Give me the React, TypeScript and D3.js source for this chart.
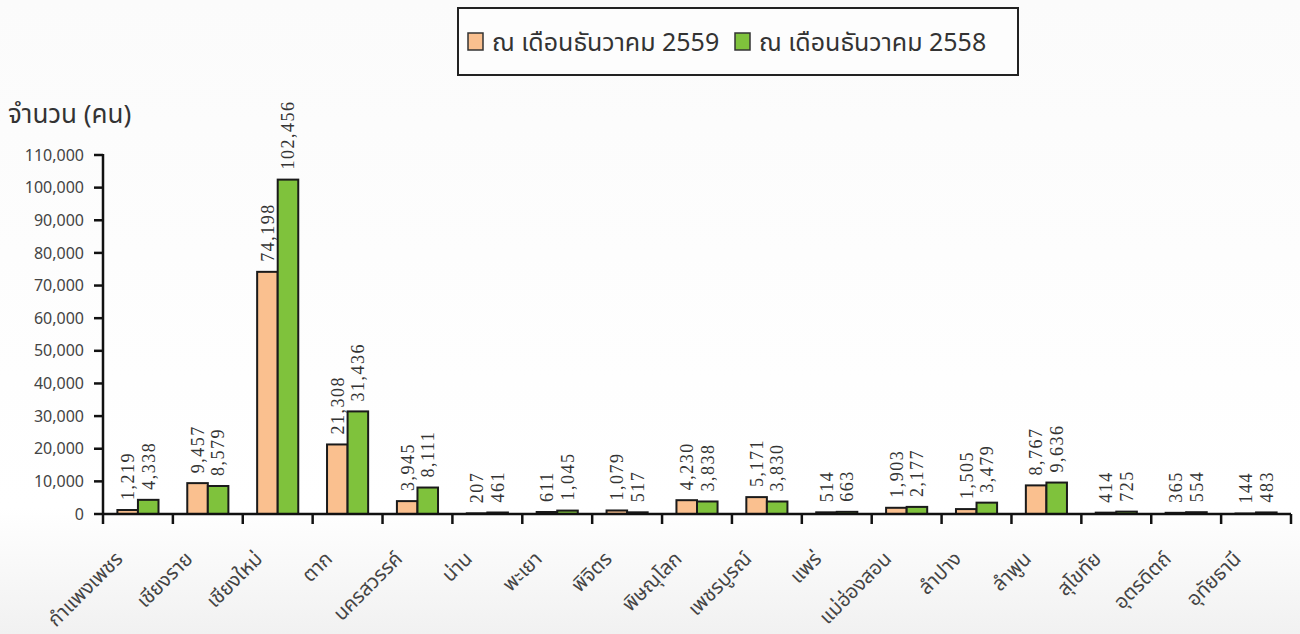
import * as d3 from 'd3';

const categories = [
  'กำแพงเพชร', 'เชียงราย', 'เชียงใหม่', 'ตาก', 'นครสวรรค์', 'น่าน', 'พะเยา', 'พิจิตร',
  'พิษณุโลก', 'เพชรบูรณ์', 'แพร่', 'แม่ฮ่องสอน', 'ลำปาง', 'ลำพูน', 'สุโขทัย', 'อุตรดิตถ์', 'อุทัยธานี',
];
const series = ['ณ เดือนธันวาคม 2559', 'ณ เดือนธันวาคม 2558'];
const values2559 = [1219, 9457, 74198, 21308, 3945, 207, 611, 1079, 4230, 5171, 514, 1903, 1505, 8767, 414, 365, 144];
const values2558 = [4338, 8579, 102456, 31436, 8111, 461, 1045, 517, 3838, 3830, 663, 2177, 3479, 9636, 725, 554, 483];
const yTicks = [0, 10000, 20000, 30000, 40000, 50000, 60000, 70000, 80000, 90000, 100000, 110000];
const colors = ['#fac08f', '#7fc23c'];

export default function App() {
  const width = 1300;
  const height = 634;
  const x0 = d3.scaleBand<string>().domain(categories).range([103, 1291]).padding(0);
  const x1 = d3.scaleBand<string>().domain(series).range([0, x0.bandwidth()]).paddingInner(0).paddingOuter(0.7);
  const y = d3.scaleLinear().domain([0, 110000]).range([514, 155]);
  const fmt = d3.format(',');
  const sans = "Tahoma, 'Noto Sans Thai', 'Liberation Sans', sans-serif";
  const serif = "'Liberation Serif', 'Times New Roman', serif";
  const data = [values2559, values2558];
  const boundaries = [...categories.map(c => x0(c) as number), x0.range()[1]];

  return (
    <svg width={width} height={height} style={{ position: 'absolute', left: 0, top: 0, display: 'block' }}>
      <defs>
        <linearGradient id="bg" x1="0" y1="0" x2="0" y2="1">
          <stop offset="0%" stopColor="#fbfbfb" />
          <stop offset="80%" stopColor="#ffffff" />
          <stop offset="100%" stopColor="#f1f1f1" />
        </linearGradient>
      </defs>
      <rect width={width} height={height} fill="url(#bg)" />

      {/* legend */}
      <rect x={458} y={8} width={560} height={67} fill="#fdfdfd" stroke="#222" strokeWidth={2} />
      {series.map((s, i) => (
        <g key={s} transform={`translate(${i === 0 ? 468 : 735},0)`}>
          <rect x={0} y={33} width={15} height={17} fill={colors[i]} stroke="#333" strokeWidth={1.5} />
          <text x={24} y={51} fontFamily={sans} fontSize={25} fill="#333">{s}</text>
        </g>
      ))}

      {/* y title */}
      <text x={8} y={123} fontFamily={sans} fontSize={26} fill="#333">จำนวน (คน)</text>

      {/* y axis */}
      {yTicks.map(t => (
        <g key={t}>
          <line x1={94} x2={103} y1={y(t)} y2={y(t)} stroke="#111" strokeWidth={2.5} />
          <text x={84} y={y(t)} dy="0.35em" textAnchor="end" fontFamily={sans} fontSize={16} fill="#444">{fmt(t)}</text>
        </g>
      ))}
      <line x1={103} x2={103} y1={y(110000) - 1} y2={y(0)} stroke="#111" strokeWidth={2.5} />

      {/* bars */}
      {categories.map((c, ci) => (
        <g key={c} transform={`translate(${x0(c)},0)`}>
          {series.map((s, si) => {
            const v = data[si][ci];
            const bx = x1(s) as number;
            const bw = x1.bandwidth();
            return (
              <g key={s}>
                <rect x={bx} y={y(v)} width={bw} height={Math.max(0, y(0) - y(v))} fill={colors[si]} stroke="#1a1a1a" strokeWidth={2} />
                <text
                  transform={`translate(${bx + bw / 2},${y(v) - 10}) rotate(-90)`}
                  dy="0.35em"
                  style={{ fontFamily: serif }}
                  fontSize={18}
                  letterSpacing={1.5}
                  fill="#333"
                >
                  {fmt(v)}
                </text>
              </g>
            );
          })}
        </g>
      ))}

      {/* x axis */}
      <line x1={103} x2={1291} y1={y(0)} y2={y(0)} stroke="#111" strokeWidth={2.5} />
      {boundaries.map((b, i) => (
        <line key={i} x1={b} x2={b} y1={y(0)} y2={y(0) + 10} stroke="#111" strokeWidth={2.5} />
      ))}
      {categories.map(c => {
        const cx = (x0(c) as number) + x0.bandwidth() / 2;
        return (
          <text
            key={c}
            transform={`translate(${cx - 14},${y(0) + 46}) rotate(-45)`}
            textAnchor="end"
            fontFamily={sans}
            fontSize={20}
            fill="#444"
          >
            {c}
          </text>
        );
      })}
    </svg>
  );
}
